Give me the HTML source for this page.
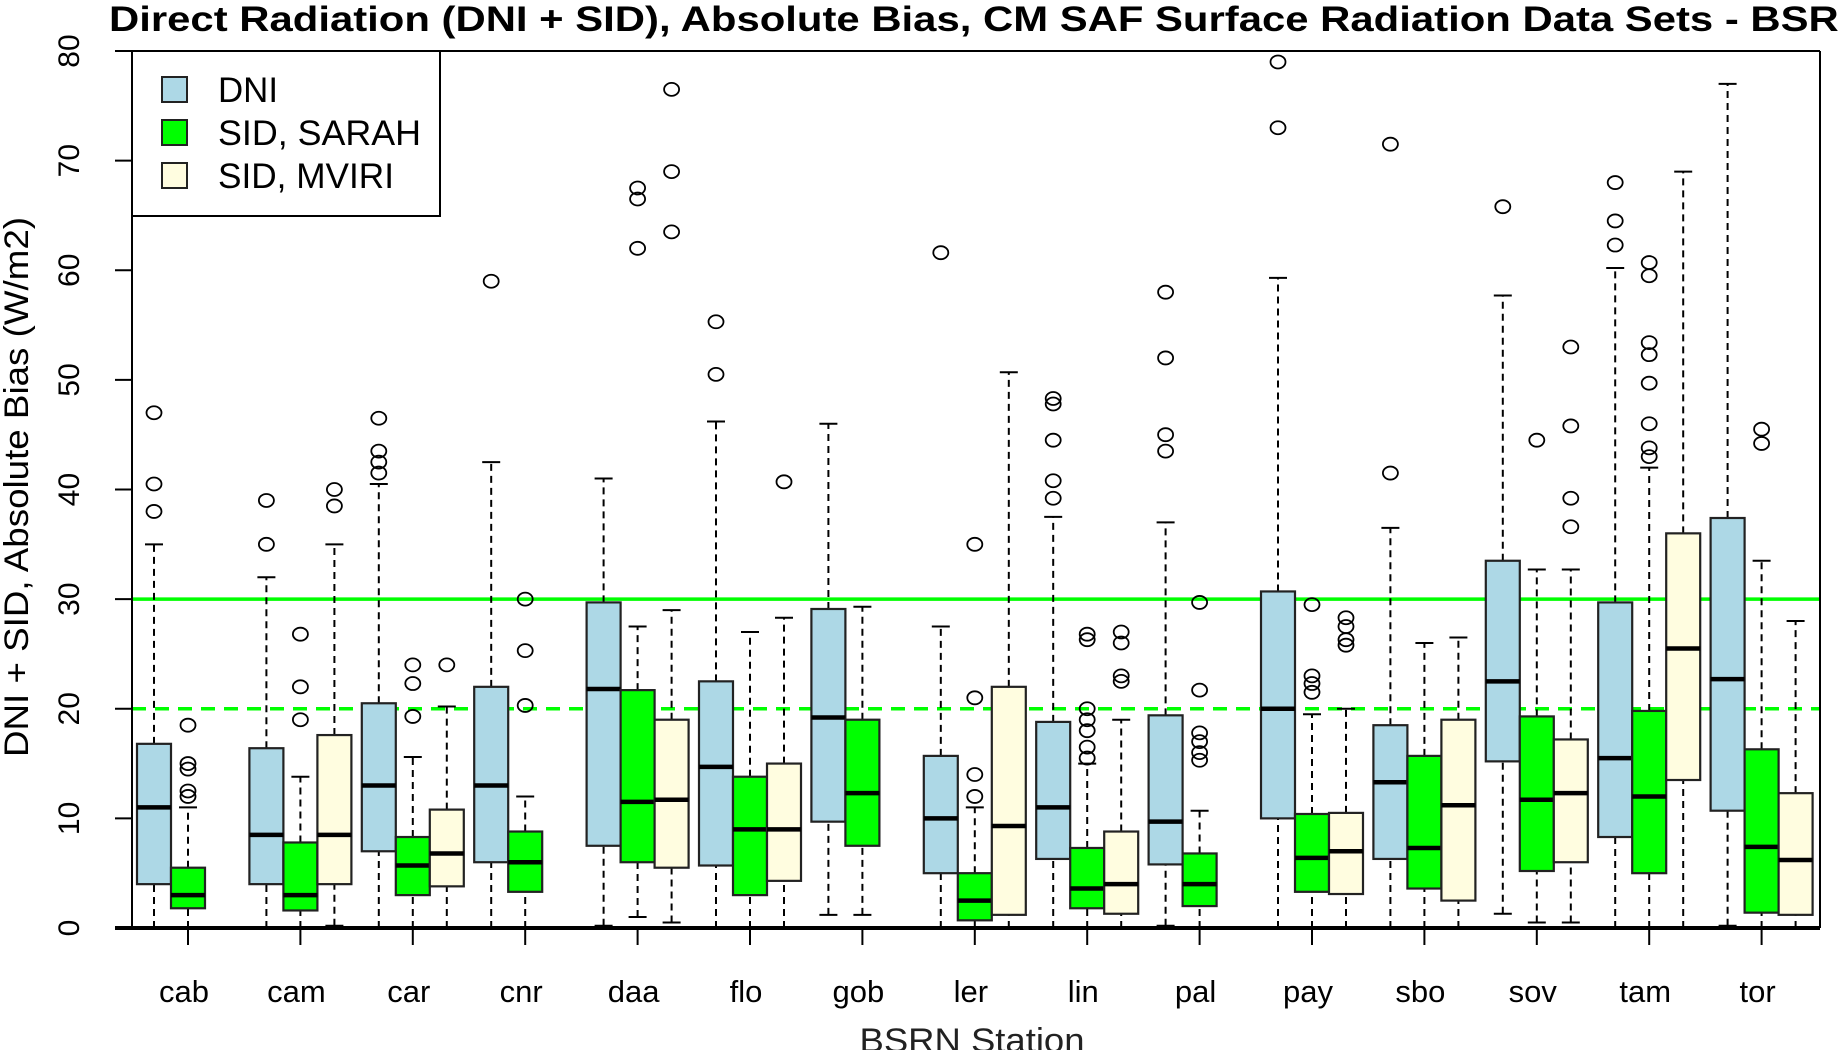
<!DOCTYPE html>
<html><head><meta charset="utf-8"><style>
html,body{margin:0;padding:0;background:#fff;}
svg{display:block;font-family:"Liberation Sans",sans-serif;}
</style></head><body>
<svg id="chart" width="1839" height="1050" viewBox="0 0 1839 1050" xmlns="http://www.w3.org/2000/svg">
<text x="109" y="31" font-size="35" font-weight="bold" textLength="1760" lengthAdjust="spacingAndGlyphs">Direct Radiation (DNI + SID), Absolute Bias, CM SAF Surface Radiation Data Sets - BSRN</text>
<g id="plot"></g>
</svg>
<script>
const stations = ["cab","cam","car","cnr","daa","flo","gob","ler","lin","pal","pay","sbo","sov","tam","tor"];
const seriesNames = ["DNI","SID, SARAH","SID, MVIRI"];
const seriesColors = ["#add8e6","#00ff00","#fffde0"];
// each stat: [whiskerLow, q1, median, q3, whiskerHigh] ; null = missing
const dniStats = [[0,4,11,16.8,35],[0,4,8.5,16.4,32],[0,7,13,20.5,40.5],[0,6,13,22,42.5],[0.2,7.5,21.8,29.7,41],[0,5.7,14.7,22.5,46.2],[1.2,9.7,19.2,29.1,46],[0,5,10,15.7,27.5],[0,6.3,11,18.8,37.5],[0.2,5.8,9.7,19.4,37],[0,10,20,30.7,59.3],[0,6.3,13.3,18.5,36.5],[1.3,15.2,22.5,33.5,57.7],[0,8.3,15.5,29.7,60.2],[0.2,10.7,22.7,37.4,77]];
const sarahStats = [[0,1.8,3,5.5,11],[0,1.6,3,7.8,13.8],[0,3,5.7,8.3,15.6],[0,3.3,6,8.8,12],[1,6,11.5,21.7,27.5],[0,3,9,13.8,27],[1.2,7.5,12.3,19,29.3],[0,0.7,2.5,5,11],[0,1.8,3.6,7.3,15],[0,2,4,6.8,10.7],[0,3.3,6.4,10.4,19.5],[0,3.6,7.3,15.7,26],[0.5,5.2,11.7,19.3,32.7],[0,5,12,19.8,42],[0,1.4,7.4,16.3,33.5]];
const mviriStats = [null,[0.2,4,8.5,17.6,35],[0,3.8,6.8,10.8,20.2],null,[0.5,5.5,11.7,19,29],[0,4.3,9,15,28.3],null,[0,1.2,9.3,22,50.7],[0,1.3,4,8.8,19],null,[0,3.1,7,10.5,20],[0,2.5,11.2,19,26.5],[0.5,6,12.3,17.2,32.7],[0,13.5,25.5,36,69],[0,1.2,6.2,12.3,28]];
const dniOut = [[38,40.5,47],[35,39],[41.5,42.5,43.5,46.5],[59],[],[50.5,55.3],[],[61.6],[39.2,40.8,44.5,47.8,48.3],[43.5,45,52,58],[73,79],[41.5,71.5],[65.8],[62.3,64.5,68],[]];
const sarahOut = [[12,12.5,14.5,15,18.5],[19,22,26.8],[19.3,22.3,24],[20.3,25.3,30],[62,66.5,67.5],[],[],[12,14,21,35],[15.5,16.5,18,19,20,26.3,26.8],[15.3,16,17,17.8,21.7,29.7],[21.5,22.3,23,29.5],[],[44.5],[43,43.8,46,49.7,52.3,53.4,59.5,60.7],[44.2,45.5]];
const mviriOut = [[],[38.5,40],[24],[],[63.5,69,76.5],[40.7],[],[],[22.5,23,26,27],[],[25.8,26.3,27.5,28.3],[],[36.6,39.2,45.8,53],[],[]];
const yTicks = [0,10,20,30,40,50,60,70,80];
const refSolid = 30, refDashed = 20;

const NS="http://www.w3.org/2000/svg";
const g=document.getElementById('plot');
const L=132,R=1820,T=51,B=928;
function yS(v){return B-v*(B-T)/80;}
function xS(i){return 188+i*112.4;}
function mk(tag,attrs,parent){const e=document.createElementNS(NS,tag);for(const k in attrs)e.setAttribute(k,attrs[k]);(parent||g).appendChild(e);return e;}

let e;
e=mk('line',{x1:L,x2:R,y1:yS(refSolid),y2:yS(refSolid),stroke:'#00ff00','stroke-width':3.5});


e=mk('line',{x1:L,x2:R,y1:yS(refDashed),y2:yS(refDashed),stroke:'#00ff00','stroke-width':3.5,'stroke-dasharray':'14,9'});



const allStats=[dniStats,sarahStats,mviriStats], allOut=[dniOut,sarahOut,mviriOut];
const offs=[-34,0,34], bw=34, cap=9;
stations.forEach((st,i)=>{
  for(let s=0;s<3;s++){
    const d=allStats[s][i]; if(!d) continue;
    const cx=xS(i)+offs[s];
    const grp=mk('g',{});
    
    
    mk('line',{x1:cx,x2:cx,y1:yS(d[0]),y2:yS(d[1]),stroke:'#000','stroke-width':2,'stroke-dasharray':'7,5'},grp);
    mk('line',{x1:cx,x2:cx,y1:yS(d[3]),y2:yS(d[4]),stroke:'#000','stroke-width':2,'stroke-dasharray':'7,5'},grp);
    mk('line',{x1:cx-cap,x2:cx+cap,y1:yS(d[0]),y2:yS(d[0]),stroke:'#000','stroke-width':2},grp);
    mk('line',{x1:cx-cap,x2:cx+cap,y1:yS(d[4]),y2:yS(d[4]),stroke:'#000','stroke-width':2},grp);
    mk('rect',{x:cx-bw/2,y:yS(d[3]),width:bw,height:yS(d[1])-yS(d[3]),fill:seriesColors[s],stroke:'#222','stroke-width':2.2},grp);
    mk('line',{x1:cx-bw/2,x2:cx+bw/2,y1:yS(d[2]),y2:yS(d[2]),stroke:'#000','stroke-width':4.5},grp);
    allOut[s][i].forEach(v=>{
      const c=mk('ellipse',{cx:cx,cy:yS(v),rx:7.5,ry:6.5,fill:'none',stroke:'#000','stroke-width':1.8},grp);
      
      
    });
  }
  e=mk('line',{x1:xS(i),x2:xS(i),y1:B,y2:B+17,stroke:'#000','stroke-width':2});
  
  
  e=mk('text',{x:xS(i)-4,y:1002,'font-size':31,'text-anchor':'middle'});
  e.textContent=st;
  
  
});

e=mk('line',{x1:115,x2:R,y1:T,y2:T,stroke:'#000','stroke-width':2});


e=mk('line',{x1:R,x2:R,y1:T,y2:B,stroke:'#000','stroke-width':2});


e=mk('line',{x1:L,x2:L,y1:T,y2:B,stroke:'#000','stroke-width':2});


e=mk('line',{x1:115,x2:R,y1:B,y2:B,stroke:'#000','stroke-width':4});



yTicks.forEach(v=>{
  e=mk('line',{x1:115,x2:L,y1:yS(v),y2:yS(v),stroke:'#000','stroke-width':2});
  
  
  e=mk('text',{x:0,y:0,'font-size':30,'text-anchor':'middle',transform:`translate(79,${yS(v)}) rotate(-90)`});
  e.textContent=v;
  
  
});

e=mk('text',{x:0,y:0,'font-size':34,'text-anchor':'middle',textLength:540,lengthAdjust:'spacingAndGlyphs',transform:`translate(28,487) rotate(-90)`});
e.textContent='DNI + SID, Absolute Bias (W/m2)';


e=mk('text',{x:972,y:1052,'font-size':34,'text-anchor':'middle',textLength:225,lengthAdjust:'spacingAndGlyphs',fill:'#222'});
e.textContent='BSRN Station';



const legendTextLen=[60,203,176];
const lg=mk('g',{});


mk('rect',{x:L,y:T,width:308,height:165,fill:'#fff',stroke:'#000','stroke-width':2},lg);
seriesNames.forEach((n,k)=>{
  const yy=89+k*43;
  const it=mk('g',{},lg);
  
  
  mk('rect',{x:162,y:yy-12,width:25,height:25,fill:seriesColors[k],stroke:'#222','stroke-width':2},it);
  const t=mk('text',{x:218,y:yy+13,'font-size':35,textLength:legendTextLen[k],lengthAdjust:'spacingAndGlyphs'},it);
  t.textContent=n;
});
</script>
</body></html>
